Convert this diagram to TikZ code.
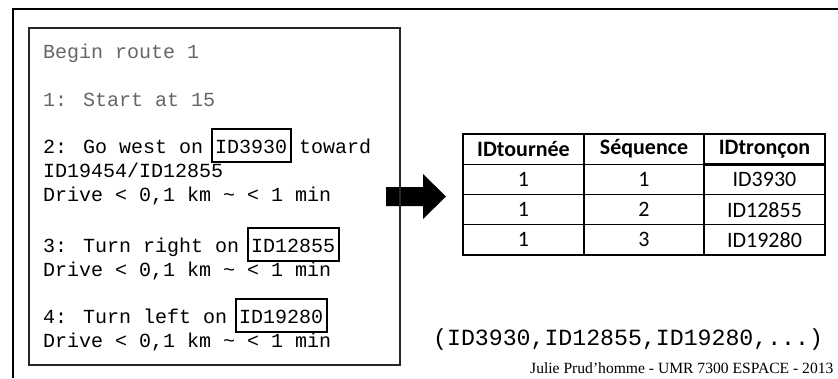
\documentclass[tikz,border=0pt]{standalone}
\usepackage{fontspec}
\setmainfont{Liberation Serif}
\newfontfamily\monof{Liberation Mono}
\newfontfamily\calib{Carlito}
\begin{document}
\begin{tikzpicture}[x=1pt,y=-1pt,
  mono/.style={font=\monof\fontsize{20}{24}\selectfont, anchor=base west, inner sep=0pt, outer sep=0pt},
  dim/.style={text=black!60},
  idbox/.style={draw, line width=2pt, font=\monof\fontsize{20}{24}\selectfont, inner xsep=3.5pt, inner ysep=4.5pt, outer sep=0pt, text height=20pt, text depth=4pt, anchor=base west},
  cell/.style={draw, line width=1.1pt, minimum width=121pt, minimum height=30.25pt, inner sep=0pt, outer sep=0pt, font=\calib\fontsize{22}{24}\selectfont},
  hcell/.style={cell, font=\calib\bfseries\fontsize{22}{24}\selectfont}
]
\useasboundingbox (0,0) rectangle (838,378);
% outer frame
\draw[line width=2.5pt] (13,378) -- (13,9) -- (838,9);
% block arrow
\fill (386,187) -- (423,187) -- (423,174) -- (446,196.5) -- (423,219) -- (423,206) -- (386,206) -- cycle;
% inner box
\draw[line width=1.5pt, black!85] (29,28) rectangle (400,365);
% text lines
\node[mono, dim] (l0) at (43,58) {Begin route 1};
\node[mono, dim] (l1) at (43,106) {1: Start at 15};
\node[mono] (l2a) at (43,153) {2: Go west on};
\node[idbox] (id1) at ([xshift=8.5pt]l2a.base east) {ID3930};
\node[mono] (l2b) at ([xshift=8.5pt]id1.base east) {toward};
\node[mono] (l3) at (43,177) {ID19454/ID12855};
\node[mono] (l4) at (43,201) {Drive < 0,1 km \textasciitilde{} < 1 min};
\node[mono] (l5a) at (43,252) {3: Turn right on};
\node[idbox] (id2) at ([xshift=8.5pt]l5a.base east) {ID12855};
\node[mono] (l6) at (43,276) {Drive < 0,1 km \textasciitilde{} < 1 min};
\node[mono] (l7a) at (43,323) {4: Turn left on};
\node[idbox] (id3) at ([xshift=8.5pt]l7a.base east) {ID19280};
\node[mono] (l8) at (43,347) {Drive < 0,1 km \textasciitilde{} < 1 min};
% table
\node[hcell] (h1) at (523.5,149.1) {IDtournée};
\node[hcell] (h2) at (644,149.1) {Séquence};
\node[hcell] (h3) at (764.5,149.1) {IDtronçon};
\node[cell] (c11) at (523.5,179.4) {1};
\node[cell] (c12) at (644,179.4) {1};
\node[cell] (c13) at (764.5,179.4) {ID3930};
\node[cell] (c21) at (523.5,209.6) {1};
\node[cell] (c22) at (644,209.6) {2};
\node[cell] (c23) at (764.5,209.6) {ID12855};
\node[cell] (c31) at (523.5,239.9) {1};
\node[cell] (c32) at (644,239.9) {3};
\node[cell] (c33) at (764.5,239.9) {ID19280};
\draw[line width=2.6pt] (c13.north west) rectangle (c33.south east);
% tuple
\node[font=\monof\fontsize{23.2}{26}\selectfont, anchor=base west, inner sep=0pt] (tuple) at (433,345) {(ID3930,ID12855,ID19280,...)};
% credit
\node[font=\fontsize{15.6}{18}\selectfont, anchor=base west, inner sep=0pt] (credit) at (530,373) {Julie Prud’homme - UMR 7300 ESPACE - 2013};
\end{tikzpicture}
\end{document}
